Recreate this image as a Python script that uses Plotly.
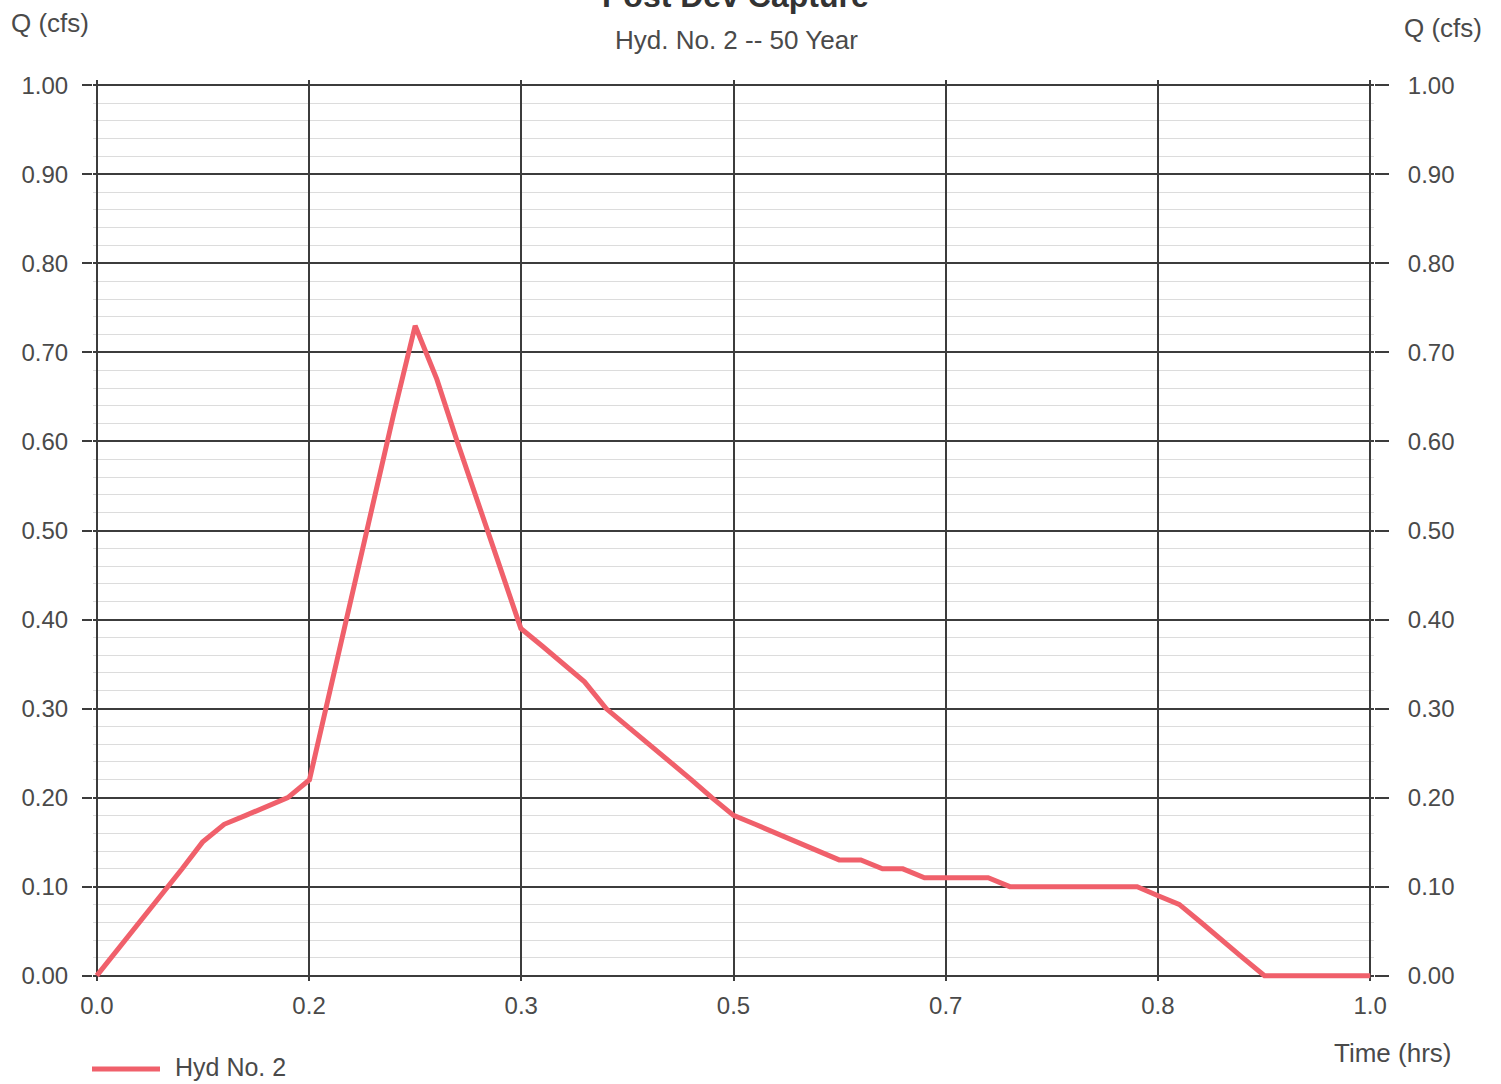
import plotly.graph_objects as go

# Hydrograph ordinates: Hyd. No. 2, 50-year storm, post-development capture
time_hrs = [0.000, 0.017, 0.033, 0.050, 0.067, 0.083, 0.100, 0.117, 0.133, 0.150,
            0.167, 0.183, 0.200, 0.217, 0.233, 0.250, 0.267, 0.283, 0.300, 0.317,
            0.333, 0.350, 0.367, 0.383, 0.400, 0.417, 0.433, 0.450, 0.467, 0.483,
            0.500, 0.517, 0.533, 0.550, 0.567, 0.583, 0.600, 0.617, 0.633, 0.650,
            0.667, 0.683, 0.700, 0.717, 0.733, 0.750, 0.767, 0.783, 0.800, 0.817,
            0.833, 0.850, 0.867, 0.883, 0.900, 0.917, 0.933, 0.950, 0.967, 0.983,
            1.000]
flow_cfs = [0.00, 0.03, 0.06, 0.09, 0.12, 0.15, 0.17, 0.18, 0.19, 0.20,
            0.22, 0.32, 0.42, 0.53, 0.63, 0.73, 0.67, 0.60, 0.53, 0.46,
            0.39, 0.37, 0.35, 0.33, 0.30, 0.28, 0.26, 0.24, 0.22, 0.20,
            0.18, 0.17, 0.16, 0.15, 0.14, 0.13, 0.13, 0.12, 0.12, 0.11,
            0.11, 0.11, 0.11, 0.10, 0.10, 0.10, 0.10, 0.10, 0.10, 0.10,
            0.09, 0.08, 0.06, 0.04, 0.02, 0.00, 0.00, 0.00, 0.00, 0.00,
            0.00]

x_tick_hours = [0.0, 10 / 60, 20 / 60, 30 / 60, 40 / 60, 50 / 60, 1.0]
x_tick_labels = ["0.0", "0.2", "0.3", "0.5", "0.7", "0.8", "1.0"]
q_ticks = [0.0, 0.1, 0.2, 0.3, 0.4, 0.5, 0.6, 0.7, 0.8, 0.9, 1.0]

series_name = "Hyd No. 2"
title_text = "Post Dev Capture"
subtitle_text = "Hyd. No. 2 -- 50 Year"

# Page geometry (a small pad beyond 0..1 keeps the frame grid lines and the
# zero-flow segment fully visible)
W, H = 1501, 1084
X_RANGE = [-0.003, 1.003]
Y_RANGE = [-0.006, 1.006]
L, R, T, B = 93, 127, 80, 103
PW, PH = W - L - R, H - T - B

LINE_COLOR = "#f0606b"
GRID_DARK = "#3c3c3c"
GRID_LIGHT = "#dcdcdc"
TEXT = "#4a4a4a"
FONT = "Liberation Sans, Arial, sans-serif"


def px(x):
    return (x - L) / PW


def py(y):
    return (H - B - y) / PH


fig = go.Figure()
fig.add_trace(go.Scatter(
    x=time_hrs, y=flow_cfs, mode="lines", name=series_name,
    line=dict(color=LINE_COLOR, width=5), showlegend=False,
))
# companion trace so the right-hand Q axis is drawn
fig.add_trace(go.Scatter(
    x=time_hrs, y=flow_cfs, mode="lines", yaxis="y2", opacity=0,
    hoverinfo="skip", showlegend=False, line=dict(width=1),
))

fig.update_layout(
    width=W, height=H, autosize=False,
    margin=dict(l=L, r=R, t=T, b=B, pad=0),
    paper_bgcolor="white", plot_bgcolor="white",
    font=dict(family=FONT, color=TEXT, size=24),
    xaxis=dict(
        range=X_RANGE, tickmode="array", tickvals=x_tick_hours, ticktext=x_tick_labels,
        showgrid=True, gridcolor=GRID_DARK, gridwidth=1.5,
        ticks="", zeroline=False, showline=False, ticklabelstandoff=8,
        tickfont=dict(size=24, color=TEXT),
    ),
    yaxis=dict(
        range=Y_RANGE, tickmode="array", tickvals=q_ticks, tickformat=".2f",
        showgrid=True, gridcolor=GRID_DARK, gridwidth=1.5,
        minor=dict(dtick=0.02, tick0=0, showgrid=True, gridcolor=GRID_LIGHT, gridwidth=1, ticks=""),
        ticks="outside", ticklen=10, tickwidth=1.5, tickcolor=GRID_DARK,
        zeroline=False, showline=False, ticklabelstandoff=9,
        tickfont=dict(size=24, color=TEXT),
    ),
    yaxis2=dict(
        range=Y_RANGE, overlaying="y", side="right", tickmode="array",
        tickvals=q_ticks, tickformat=".2f", showgrid=False,
        ticks="outside", ticklen=14, tickwidth=1.5, tickcolor=GRID_DARK,
        zeroline=False, showline=False, ticklabelstandoff=14,
        tickfont=dict(size=24, color=TEXT),
    ),
    showlegend=False,
)

annotations = [
    dict(text="<b>" + title_text + "</b>", x=px(735), y=py(-4), font=dict(size=32, color="#333333"),
         xanchor="center", yanchor="middle"),
    dict(text=subtitle_text, x=px(736), y=py(40), font=dict(size=26, color=TEXT),
         xanchor="center", yanchor="middle"),
    dict(text="Q (cfs)", x=px(50), y=py(23), font=dict(size=26, color=TEXT),
         xanchor="center", yanchor="middle"),
    dict(text="Q (cfs)", x=px(1443), y=py(28), font=dict(size=26, color=TEXT),
         xanchor="center", yanchor="middle"),
    dict(text="Time (hrs)", x=px(1453), y=py(1053), font=dict(size=26, color=TEXT),
         xanchor="right", yanchor="middle"),
    dict(text=series_name, x=px(173), y=py(1067), font=dict(size=25, color=TEXT),
         xanchor="left", yanchor="middle"),
]
for a in annotations:
    a.update(xref="paper", yref="paper", showarrow=False)
fig.update_layout(annotations=annotations)

# legend swatch
fig.add_shape(type="line", xref="paper", yref="paper",
              x0=px(92), x1=px(160), y0=py(1069), y1=py(1069),
              line=dict(color=LINE_COLOR, width=5))

fig.write_html("out.html", config={"displayModeBar": False})
